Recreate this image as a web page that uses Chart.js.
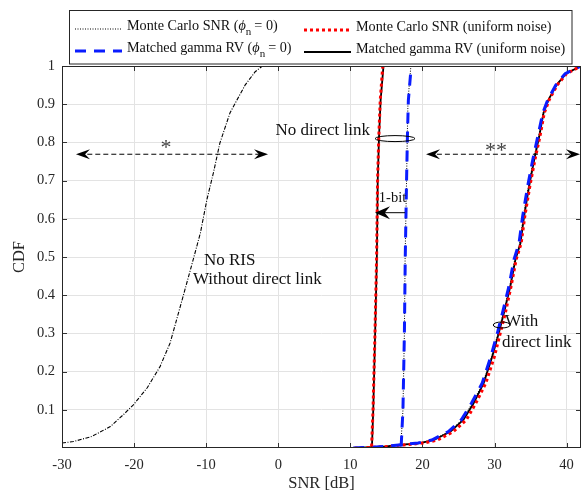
<!DOCTYPE html>
<html>
<head>
<meta charset="utf-8">
<script src="https://cdn.jsdelivr.net/npm/chart.js@4"></script>
<style>
  html, body { margin: 0; padding: 0; background: #fff; }
  #wrap { width: 584px; height: 496px; }
</style>
</head>
<body>
<div id="wrap"><canvas id="cdf"></canvas></div>
<script>
// tick labels
const xTicks = [-30, -20, -10, 0, 10, 20, 30, 40];
const yTicks = [0.1, 0.2, 0.3, 0.4, 0.5, 0.6, 0.7, 0.8, 0.9, 1];

// No RIS, without direct link
const noRisX = [-30, -28.4, -25.9, -23.3, -21.5, -20.1, -18.2, -16.4, -15.0, -14.1, -13.2, -11.8, -10.8, -9.9, -9.0, -8.1, -6.7, -5.7, -4.6, -3.2, -2.2];
const noRisY = [0.013, 0.017, 0.03, 0.056, 0.087, 0.113, 0.157, 0.213, 0.275, 0.336, 0.397, 0.493, 0.563, 0.65, 0.72, 0.798, 0.877, 0.912, 0.95, 0.985, 1.0];

// RIS, no direct link
const steepY = [0.004, 0.1, 0.3, 0.5, 0.7, 0.815, 0.91, 1.0];
const uniMcX = [12.95, 13.15, 13.42, 13.65, 13.78, 13.95, 14.15, 14.5];
const uniGammaX = [13.0, 13.18, 13.44, 13.68, 13.8, 13.98, 14.2, 14.6];
const zeroMcX = [17.0, 17.3, 17.5, 17.6, 17.8, 17.9, 18.0, 18.4];
const zeroGammaX = [17.05, 17.3, 17.5, 17.62, 17.8, 17.92, 18.05, 18.45];

// RIS with direct link
const directY = [0.0, 0.002, 0.004, 0.008, 0.013, 0.021, 0.043, 0.074, 0.117, 0.17, 0.24, 0.301, 0.353, 0.423, 0.493, 0.536, 0.606, 0.685, 0.754, 0.815, 0.877, 0.912, 0.95, 0.98, 1.0];
const directUniGammaX = [10.5, 13, 15, 16.9, 19.7, 21.6, 23.9, 25.7, 27.1, 28.5, 29.7, 30.6, 31.3, 32.2, 32.9, 33.6, 34.1, 34.8, 35.5, 36.2, 36.8, 37.5, 38.6, 39.9, 42];
const directUniMcX = [10.6, 13.2, 15.3, 17.3, 20.2, 22.1, 24.3, 26.1, 27.4, 28.8, 30.0, 30.8, 31.5, 32.3, 33.0, 33.7, 34.2, 34.9, 35.6, 36.3, 36.9, 37.6, 38.7, 40.0, 42];
const directZeroGammaX = [10.4, 12.8, 14.8, 16.7, 19.4, 21.3, 23.6, 25.4, 26.8, 28.3, 29.5, 30.4, 31.1, 32.0, 32.7, 33.4, 33.9, 34.6, 35.3, 36.0, 36.7, 37.4, 38.5, 39.8, 42];
const directZeroMcX = [10.5, 12.9, 14.9, 16.8, 19.5, 21.4, 23.7, 25.5, 26.9, 28.4, 29.6, 30.5, 31.2, 32.1, 32.8, 33.5, 34.0, 34.7, 35.4, 36.1, 36.75, 37.45, 38.55, 39.85, 42];

const FONT = "'Liberation Serif', 'DejaVu Serif', serif";

function pts(xs, ys) {
  return xs.map((x, i) => ({ x: x, y: ys[i] }));
}

const styles = {
  mcZero: { borderColor: "#000", borderWidth: 1, borderDash: [1, 1.5] },
  gammaZero: { borderColor: "#0a1cff", borderWidth: 3, borderDash: [11, 8] },
  mcUni: { borderColor: "#ff0000", borderWidth: 3, borderDash: [3, 3] },
  gammaUni: { borderColor: "#000", borderWidth: 1.8, borderDash: [] },
};

function ds(data, style) {
  return Object.assign({ data: data, pointRadius: 0, fill: false, tension: 0 }, style);
}

const datasets = [
  ds(pts(noRisX, noRisY), { borderColor: "#000", borderWidth: 1.1, borderDash: [4, 1.5, 1, 1.5] }),
  ds(pts(zeroGammaX, steepY), styles.gammaZero),
  ds(pts(uniMcX, steepY), styles.mcUni),
  ds(pts(directZeroGammaX, directY), styles.gammaZero),
  ds(pts(directUniMcX, directY), styles.mcUni),
  ds(pts(zeroMcX, steepY), styles.mcZero),
  ds(pts(uniGammaX, steepY), styles.gammaUni),
  ds(pts(directZeroMcX, directY), styles.mcZero),
  ds(pts(directUniGammaX, directY), styles.gammaUni),
];

function arrowHead(ctx, x, y, dir, len, half) {
  // chevron style head pointing in dir (+1 right, -1 left)
  ctx.save();
  ctx.setLineDash([]);
  ctx.beginPath();
  ctx.moveTo(x, y);
  ctx.lineTo(x - dir * len, y - half);
  ctx.lineTo(x - dir * len * 0.65, y);
  ctx.lineTo(x - dir * len, y + half);
  ctx.closePath();
  ctx.fillStyle = "#000";
  ctx.fill();
  ctx.restore();
}

const decor = {
  id: "decor",
  beforeDatasetsDraw(chart) {
    const { ctx, chartArea: a, scales: { x, y } } = chart;
    // inward ticks
    ctx.save();
    ctx.strokeStyle = "#333";
    ctx.lineWidth = 1;
    ctx.beginPath();
    xTicks.forEach(v => {
      const px = Math.round(x.getPixelForValue(v)) + 0.5;
      ctx.moveTo(px, a.bottom); ctx.lineTo(px, a.bottom - 5);
      ctx.moveTo(px, a.top); ctx.lineTo(px, a.top + 5);
    });
    yTicks.forEach(v => {
      const py = Math.round(y.getPixelForValue(v)) + 0.5;
      ctx.moveTo(a.left, py); ctx.lineTo(a.left + 5, py);
      ctx.moveTo(a.right, py); ctx.lineTo(a.right - 5, py);
    });
    ctx.stroke();
    ctx.restore();
  },
  afterDatasetsDraw(chart) {
    const { ctx, chartArea: a, scales: { x, y } } = chart;
    const X = v => x.getPixelForValue(v);
    const Y = v => y.getPixelForValue(v);
    ctx.save();
    // box
    ctx.strokeStyle = "#262626";
    ctx.lineWidth = 1;
    ctx.strokeRect(a.left + 0.5, a.top + 0.5, a.right - a.left - 1, a.bottom - a.top - 1);

    ctx.fillStyle = "#111";
    ctx.strokeStyle = "#000";
    ctx.textBaseline = "middle";

    // * arrow
    ctx.setLineDash([5, 3]);
    ctx.lineWidth = 1;
    ctx.beginPath();
    ctx.moveTo(X(-27.6), Y(0.769)); ctx.lineTo(X(-1.8), Y(0.769));
    ctx.stroke();
    arrowHead(ctx, X(-28.06), Y(0.769), -1, 14, 5);
    arrowHead(ctx, X(-1.42), Y(0.769), 1, 14, 5);
    ctx.textAlign = "center";
    ctx.fillStyle = "#444";
    ctx.font = "22px " + FONT;
    ctx.fillText("*", X(-15.57), Y(0.785));

    // ** arrow
    ctx.setLineDash([5, 3]);
    ctx.beginPath();
    ctx.moveTo(X(20.9), Y(0.769)); ctx.lineTo(X(41.5), Y(0.769));
    ctx.stroke();
    arrowHead(ctx, X(20.5), Y(0.769), -1, 14, 5);
    arrowHead(ctx, X(41.86), Y(0.769), 1, 14, 5);
    ctx.fillText("**", X(30.2), Y(0.778));

    ctx.setLineDash([]);
    ctx.fillStyle = "#111";
    ctx.font = "17px " + FONT;
    // No direct link
    ctx.textAlign = "right";
    ctx.fillText("No direct link", X(12.73), Y(0.83));
    ctx.beginPath();
    ctx.ellipse(X(16.2), Y(0.81), 20, 3, 0, 0, Math.PI * 2);
    ctx.stroke();

    // 1-bit
    ctx.textAlign = "center";
    ctx.font = "14.5px " + FONT;
    ctx.fillText("1-bit", X(15.85), Y(0.654));
    ctx.lineWidth = 1;
    ctx.beginPath();
    ctx.moveTo(X(17.6), Y(0.616)); ctx.lineTo(X(14.2), Y(0.616));
    ctx.stroke();
    arrowHead(ctx, X(13.42), Y(0.616), -1, 15, 6.5);

    // No RIS
    ctx.font = "17px " + FONT;
    ctx.textAlign = "left";
    ctx.fillText("No RIS", X(-10.3), Y(0.492));
    ctx.fillText("Without direct link", X(-11.83), Y(0.44));

    // With direct link
    ctx.fillText("With", X(31.46), Y(0.33));
    ctx.fillText("direct link", X(31.04), Y(0.277));
    ctx.beginPath();
    ctx.ellipse(X(31.0), Y(0.322), 8.5, 3, 0, 0, Math.PI * 2);
    ctx.stroke();

    // legend box
    ctx.fillStyle = "#fff";
    ctx.fillRect(69.5, 10.5, 502.5, 53.5);
    ctx.strokeStyle = "#262626";
    ctx.lineWidth = 1;
    ctx.strokeRect(69.5, 10.5, 502.5, 53.5);
    const items = [
      [styles.mcZero, "Monte Carlo SNR (", ")", 75, 26, true],
      [styles.gammaZero, "Matched gamma RV (", ")", 75, 48, true],
      [styles.mcUni, "Monte Carlo SNR (uniform noise)", null, 304, 27, false],
      [styles.gammaUni, "Matched gamma RV (uniform noise)", null, 304, 49, false],
    ];
    ctx.textAlign = "left";
    items.forEach(([st, t1, t2, lx, ly, phi]) => {
      ctx.strokeStyle = st.borderColor;
      ctx.lineWidth = st.borderWidth;
      ctx.setLineDash(st.borderDash);
      ctx.beginPath();
      ctx.moveTo(lx, ly + 3); ctx.lineTo(lx + 47, ly + 3);
      ctx.stroke();
      ctx.setLineDash([]);
      ctx.fillStyle = "#111";
      ctx.font = "14.2px " + FONT;
      let tx = lx + 52;
      ctx.fillText(t1, tx, ly);
      tx += ctx.measureText(t1).width;
      if (phi) {
        ctx.font = "italic 14.2px " + FONT;
        ctx.fillText("\u03d5", tx, ly);
        tx += ctx.measureText("\u03d5").width;
        ctx.font = "11px " + FONT;
        ctx.fillText("n", tx, ly + 6);
        tx += ctx.measureText("n").width + 3;
        ctx.font = "14.2px " + FONT;
        ctx.fillText("= 0" + t2, tx, ly);
      }
    });
    ctx.restore();
  },
};

new Chart(document.getElementById("cdf"), {
  type: "line",
  data: { datasets: datasets },
  options: {
    responsive: true,
    maintainAspectRatio: false,
    animation: false,
    layout: { padding: { top: 66, right: 3, left: 0, bottom: 0 } },
    plugins: { legend: { display: false }, tooltip: { enabled: false } },
    scales: {
      x: {
        type: "linear",
        min: -30,
        max: 42,
        afterBuildTicks: s => { s.ticks = xTicks.map(v => ({ value: v })); },
        afterFit: s => { s.height = 48; },
        grid: { color: "#e3e3e3", drawTicks: false },
        border: { display: false },
        ticks: { color: "#262626", padding: 8, font: { family: FONT, size: 14.5 } },
        title: { display: true, text: "SNR [dB]", color: "#262626", padding: { top: 2, bottom: 2 }, font: { family: FONT, size: 16.5 } },
      },
      y: {
        type: "linear",
        min: 0,
        max: 1,
        afterBuildTicks: s => { s.ticks = yTicks.map(v => ({ value: v })); },
        afterFit: s => { s.width = 62; },
        grid: { color: "#e3e3e3", drawTicks: false },
        border: { display: false },
        ticks: { color: "#262626", padding: 7, font: { family: FONT, size: 14.5 }, callback: v => String(v) },
        title: { display: true, text: "CDF", color: "#262626", padding: { top: 10, bottom: 2 }, font: { family: FONT, size: 16.5 } },
      },
    },
  },
  plugins: [decor],
});
</script>
</body>
</html>
